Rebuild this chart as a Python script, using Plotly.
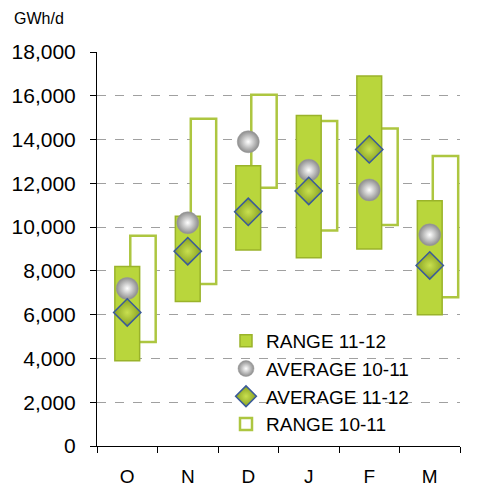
import plotly.graph_objects as go

months = ['O', 'N', 'D', 'J', 'F', 'M']
pos = [0, 1, 2, 3, 4, 5]

# range 11-12 (green bars)
range_1112_low = [3900, 6600, 8950, 8600, 9000, 6000]
range_1112_high = [8200, 10500, 12800, 15100, 16900, 11200]

# range 10-11 (outline bars)
range_1011_low = [4750, 7400, 11800, 9850, 10100, 6800]
range_1011_high = [9600, 14950, 16050, 14850, 14500, 13250]

avg_1011 = [7200, 10200, 13900, 12600, 11700, 9650]
avg_1112 = [6100, 8900, 10700, 11650, 13550, 8250]

font = "Liberation Sans, Arial, sans-serif"

# page body has an 8px margin, so the figure is a bit smaller than the window
W, H = 471, 481
L, R, T, B = 89, 19, 44, 43
pw, ph = W - L - R, H - T - B

fig = go.Figure()

# outline bars sit a bit to the right of the green ones
fig.add_trace(go.Bar(
    x=[p + 0.26 for p in pos],
    y=[h - l for h, l in zip(range_1011_high, range_1011_low)],
    base=range_1011_low,
    width=0.42,
    marker=dict(color='white', line=dict(color='#adc640', width=2.5)),
    name='RANGE 10-11', legendrank=4,
))
fig.add_trace(go.Bar(
    x=pos,
    y=[h - l for h, l in zip(range_1112_high, range_1112_low)],
    base=range_1112_low,
    width=0.41,
    marker=dict(color='#b9d63c', line=dict(color='#9ab32a', width=1.5)),
    name='RANGE 11-12', legendrank=1,
))
fig.add_trace(go.Scatter(
    x=pos, y=avg_1011, mode='markers',
    marker=dict(symbol='circle', size=22, color='#8c8c8c',
                gradient=dict(type='radial', color='#ffffff'),
                line=dict(color='#9a9a9a', width=0.5)),
    name='AVERAGE 10-11', legendrank=2,
))
fig.add_trace(go.Scatter(
    x=pos, y=avg_1112, mode='markers',
    marker=dict(symbol='diamond', size=21, color='#86a020',
                gradient=dict(type='radial', color='#c9e050'),
                line=dict(color='#3a5a9a', width=1.5)),
    name='AVERAGE 11-12', legendrank=3,
))

fig.update_layout(
    width=W, height=H,
    margin=dict(l=L, r=R, t=T, b=B, autoexpand=False),
    plot_bgcolor='white', paper_bgcolor='white',
    barmode='overlay',
    font=dict(family=font, size=19, color='black'),
    showlegend=True,
    legend=dict(x=(218 - L) / pw, y=(H - B - (322 - 8)) / ph,
                xanchor='left', yanchor='top',
                bgcolor='rgba(0,0,0,0)', font=dict(size=19),
                tracegroupgap=0, itemwidth=30),
    annotations=[dict(text='GWh/d', x=(4 - L) / pw, y=(H - B - 10) / ph,
                      xref='paper', yref='paper', xanchor='left', yanchor='middle',
                      showarrow=False, font=dict(size=16))],
)

fig.update_xaxes(
    range=[-0.5, 5.5], tickvals=pos, ticktext=months, automargin=False,
    showline=True, linecolor='black', linewidth=1,
    showgrid=False, ticks='', tickfont=dict(size=19), ticklabelstandoff=13,
    minor=dict(tickvals=[-0.5, 0.5, 1.5, 2.5, 3.5, 4.5, 5.5], ticks='outside',
               ticklen=6, tickcolor='black'),
)
fig.update_yaxes(
    range=[0, 18000], dtick=2000, tickformat=',d', automargin=False,
    showline=True, linecolor='black', linewidth=1,
    ticks='outside', ticklen=6, tickcolor='black',
    showgrid=True, gridcolor='#a0a0a0', griddash='dash', gridwidth=1,
    zeroline=False, tickfont=dict(size=21), ticklabelstandoff=10,
)

fig.write_html("out.html")
